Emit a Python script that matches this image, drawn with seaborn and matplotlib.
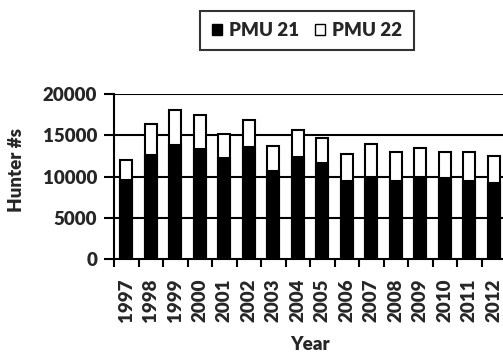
import matplotlib
matplotlib.use("Agg")
import matplotlib.pyplot as plt
import seaborn as sns
import pandas as pd
import numpy as np
from matplotlib.patches import Patch

years = ["1997", "1998", "1999", "2000", "2001", "2002", "2003", "2004",
         "2005", "2006", "2007", "2008", "2009", "2010", "2011", "2012"]
pmu21 = [9600, 12600, 13850, 13400, 12200, 13600, 10700, 12400,
         11700, 9500, 9900, 9500, 9900, 9800, 9500, 9250]
pmu22 = [2400, 3800, 4250, 4000, 3000, 3300, 3000, 3300,
         3000, 3300, 4100, 3500, 3600, 3200, 3500, 3250]
yticks = [0, 5000, 10000, 15000, 20000]

sns.set_theme(style="white")
plt.rcParams['font.family'] = ['Lato', 'DejaVu Sans']
W = 'heavy'
FS = 13.5

df = pd.DataFrame({"Year": years, "PMU 21": pmu21, "PMU 22": pmu22})
df["Total"] = df["PMU 21"] + df["PMU 22"]

fig = plt.figure(figsize=(5.03, 3.56), dpi=100)
ax = fig.add_axes([114/503, 1 - 259.3/356, (506-114)/503, (259.3-94)/356])

for y in yticks[1:]:
    ax.axhline(y, color="black", lw=1.5, zorder=0)

sns.barplot(data=df, x="Year", y="Total", color="white", edgecolor="black",
            linewidth=1.5, width=0.47, ax=ax, zorder=2)
sns.barplot(data=df, x="Year", y="PMU 21", color="black", edgecolor="black",
            linewidth=1.5, width=0.47, ax=ax, zorder=3)

ax.set_ylim(0, 20000)
ax.set_xlim(-0.5, 15.5)
ax.set_yticks(yticks)
ax.set_yticklabels([str(v) for v in yticks], fontsize=FS, fontweight=W)
ax.set_xticks(range(len(years)))
ax.set_xticklabels(years, rotation=90, fontsize=FS, fontweight=W)
ax.set_xticks(np.arange(-0.5, 16, 1), minor=True)
ax.tick_params(axis='x', which='major', length=0, pad=14)
ax.tick_params(axis='x', which='minor', length=6, width=1.5, color='black', direction='out')
ax.tick_params(axis='y', which='major', length=7, width=1.5, color='black', direction='out', pad=5)
ax.tick_params(bottom=True, left=True, which='both')

for s in ["top", "right"]:
    ax.spines[s].set_visible(False)
for s in ["left", "bottom"]:
    ax.spines[s].set_color("black")
    ax.spines[s].set_linewidth(1.5)
ax.grid(False)

ax.set_xlabel("Year", fontsize=FS, fontweight=W, va='center')
ax.set_ylabel("Hunter #s", fontsize=FS, fontweight=W, va='center')
ax.xaxis.set_label_coords((310-114)/(506-114), (259.3-344)/(259.3-94))
ax.yaxis.set_label_coords((17-114)/(506-114), (259.3-170)/(259.3-94))

handles = [Patch(facecolor="black", edgecolor="black", label="PMU 21"),
           Patch(facecolor="white", edgecolor="black", label="PMU 22")]
leg = fig.legend(handles=handles, loc="center", bbox_to_anchor=(307/503, 1 - 30.5/356),
                 ncol=2, frameon=True, fancybox=False,
                 prop={'weight': W, 'size': FS},
                 handlelength=0.55, handleheight=0.55, handletextpad=0.4, columnspacing=0.8,
                 borderpad=0.6)
leg.get_frame().set_edgecolor("black")
leg.get_frame().set_linewidth(1.5)

fig.savefig("out.png", dpi=100)
